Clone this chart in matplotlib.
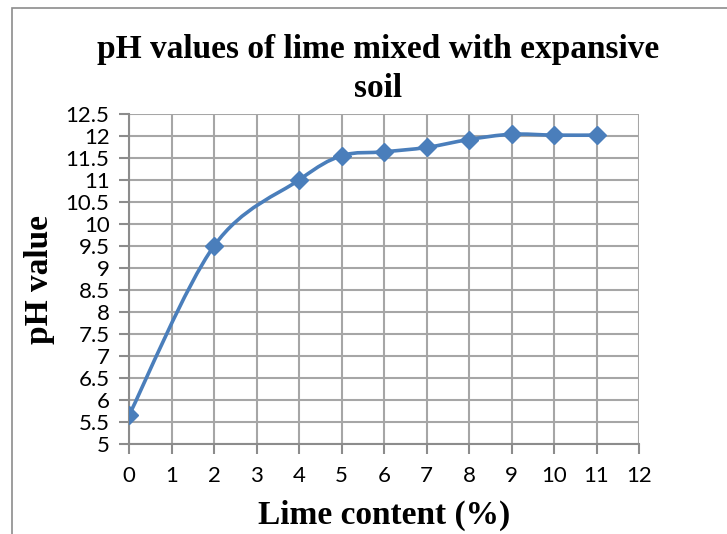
import numpy as np
import matplotlib.pyplot as plt
from matplotlib.path import Path
from matplotlib.patches import PathPatch, Rectangle

# Dane pomiarowe: zawartość wapna (%) i pH mieszanki
lime_content = [0, 2, 4, 5, 6, 7, 8, 9, 10, 11]
ph_value = [5.65, 9.5, 11.0, 11.55, 11.64, 11.74, 11.92, 12.04, 12.02, 12.02]

x_ticks = list(range(0, 13))
y_ticks = [5, 5.5, 6, 6.5, 7, 7.5, 8, 8.5, 9, 9.5, 10, 10.5, 11, 11.5, 12, 12.5]

line_color = "#4a7ebb"
grid_color = "#a6a6a6"


def smooth_path(xs, ys):
    """Wygładzona linia w stylu Excela (krzywe Beziera przez punkty)."""
    pts = np.column_stack([xs, ys]).astype(float)
    n = len(pts)
    verts = [pts[0]]
    codes = [Path.MOVETO]
    for i in range(n - 1):
        p0 = pts[i - 1] if i > 0 else pts[i]
        p1 = pts[i]
        p2 = pts[i + 1]
        p3 = pts[i + 2] if i + 2 < n else pts[i + 1]
        c1 = p1 + (p2 - p0) / 6.0
        c2 = p2 - (p3 - p1) / 6.0
        verts += [c1, c2, p2]
        codes += [Path.CURVE4] * 3
    return Path(verts, codes)


fig = plt.figure(figsize=(7.27, 5.34), dpi=100)
ax = fig.add_axes([129 / 727, 1 - 444 / 534, 510 / 727, 330 / 534])

# Ramka wykresu
fig.patches.append(Rectangle((12 / 727, -0.05), 1.0, 1 - 8 / 534 + 0.05,
                             transform=fig.transFigure, fill=False,
                             edgecolor="#8c8c8c", linewidth=1.2))

ax.add_patch(PathPatch(smooth_path(lime_content, ph_value), fill=False,
                       edgecolor=line_color, linewidth=2.6, zorder=3))
ax.plot(lime_content, ph_value, linestyle="none", marker="D", markersize=9,
        color=line_color, zorder=4)

ax.set_xlim(0, 12)
ax.set_ylim(5, 12.5)
ax.set_xticks(x_ticks)
ax.set_yticks(y_ticks)
ax.set_yticklabels([f"{v:g}" for v in y_ticks])
ax.grid(True, color=grid_color, linewidth=1.5)
ax.set_axisbelow(True)

for side in ["top", "right"]:
    ax.spines[side].set_visible(False)
for side in ["left", "bottom"]:
    ax.spines[side].set_color("#8c8c8c")
    ax.spines[side].set_linewidth(1.5)

ax.tick_params(axis="both", direction="out", length=7, width=1.5,
               color="#8c8c8c", labelsize=16, labelcolor="black")
ax.tick_params(axis="x", pad=9)
ax.tick_params(axis="y", pad=7)
for lbl in ax.get_xticklabels() + ax.get_yticklabels():
    lbl.set_family("Lato")

serif = "Liberation Serif"
fig.text(378 / 727, 1 - 69 / 534, "pH values of lime mixed with expansive\nsoil",
         ha="center", va="center", fontsize=24, fontweight="bold",
         family=serif, linespacing=1.3)
ax.set_xlabel("Lime content (%)", fontsize=24, fontweight="bold", family=serif,
              labelpad=10)
ax.set_ylabel("pH value", fontsize=24, fontweight="bold", family=serif,
              labelpad=8)

fig.savefig("out.png", dpi=100)
